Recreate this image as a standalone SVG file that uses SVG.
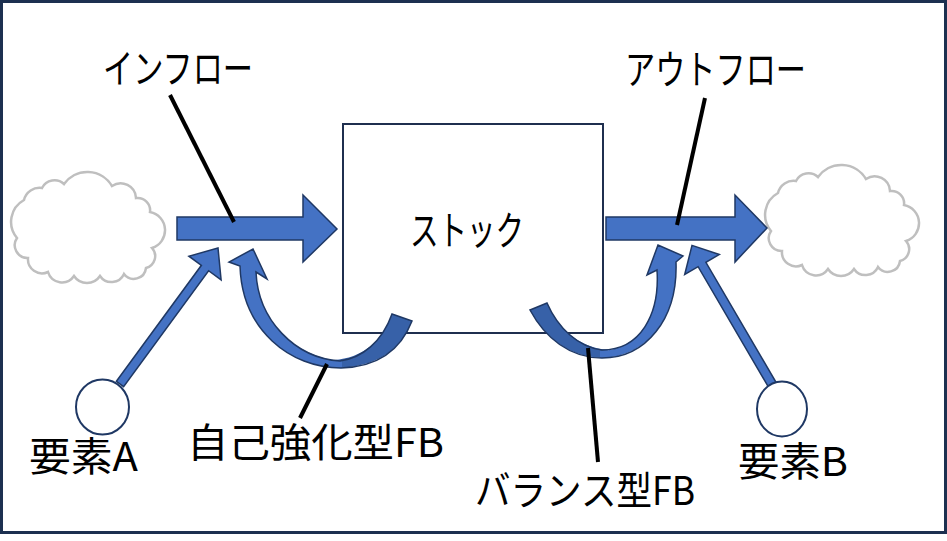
<svg xmlns="http://www.w3.org/2000/svg" width="947" height="541" viewBox="0 0 947 541">
  <style>
    .lbl { font-family: "Noto Sans CJK JP", "Noto Sans", sans-serif; font-size: 40px; fill: #000; }
    .cloud { fill: #fff; stroke: #bfbfbf; stroke-width: 2.5; }
    .blk { fill: #4472c4; stroke: #1f3864; stroke-width: 1.5; stroke-linejoin: miter; }
    .fill-light { fill: #4472c4; stroke: none; }
    .fill-dark { fill: #3761a8; stroke: none; }
    .outline { fill: none; stroke: #1f3864; stroke-width: 1.5; }
    .call { stroke: #000; stroke-width: 4; fill: none; }
    .elem { fill: #fff; stroke: #1f3864; stroke-width: 2; }
  </style>
  <defs>
    <path id="cloudShape" d="M17 238 A25 25 0 0 1 24 200 A16 16 0 0 1 42 188 A14 14 0 0 1 64 184 A28.7 28.7 0 0 1 112 186 A15.4 15.4 0 0 1 136 198 A12.5 12.5 0 0 1 150 212 A18.6 18.6 0 0 1 152 248 A12.2 12.2 0 0 1 146 268 A12.3 12.3 0 0 1 124 274 A13.8 13.8 0 0 1 100 276 A15.6 15.6 0 0 1 74 276 A14.6 14.6 0 0 1 48 272 A14.1 14.1 0 0 1 28 258 A12.8 12.8 0 0 1 17 238 Z"/>
  </defs>
  <rect x="0" y="0" width="947" height="541" fill="#fff"/>
  <rect x="1.5" y="1.5" width="944" height="531" fill="#fff" stroke="#1c3050" stroke-width="3"/>

  <g id="cloud-left">
    <use href="#cloudShape" class="cloud"/>
  </g>
  <g id="cloud-right">
    <use href="#cloudShape" class="cloud" transform="translate(754,-7)"/>
  </g>

  <g id="stock">
    <rect x="343" y="124" width="260" height="209" fill="#fff" stroke="#1f2f4f" stroke-width="2"/>
    <text class="lbl" x="410" y="245" textLength="114" lengthAdjust="spacingAndGlyphs">ストック</text>
  </g>

  <g id="connectors">
    <!-- inflow -->
    <polygon class="blk" points="177,217 303,217 303,195 337,229 303,262 303,240 177,240"/>
    <!-- outflow -->
    <polygon class="blk" points="606,217 735,217 735,195 767,228 735,262 735,240 606,240"/>
    <!-- self-reinforcing FB curved arrow -->
    <g id="curve-reinforcing">
      <path class="fill-dark" d="M392 314 L412 321 C400 352 375 367 336 368 L334 360 C362 358 382 342 392 314 Z"/>
      <path class="fill-light" d="M342 368 C290 368 242 330 240 266 L229 262 L253 249 L267 279 L256 272 C258 320 295 358 342 361 Z"/>
      <path class="outline" d="M392 314 L412 321 C400 352 375 367 341 368 C290 368 242 330 240 266 L229 262 L253 249 L267 279 L256 272 C258 320 295 358 340 361 C362 358 382 342 392 314 Z"/>
    </g>
    <!-- balance FB curved arrow -->
    <g id="curve-balancing">
      <path class="fill-dark" d="M530 310 L547 303 C558 328 578 347 608 350 L606 358 C570 358 545 338 530 310 Z"/>
      <path class="fill-light" d="M600 358 C645 358 678 320 676 262 L683 256 L658 245 L647 275 L657 270 C660 315 640 350 600 351 Z"/>
      <path class="outline" d="M530 310 L547 303 C558 328 578 347 602 350 C640 350 660 315 657 270 L647 275 L658 245 L683 256 L676 262 C678 320 645 358 602 358 C570 358 545 338 530 310 Z"/>
    </g>
    <!-- element A arrow -->
    <polygon class="blk" points="116.4,381.3 201.4,265.3 188.9,256.2 218,248 221.1,279.8 208.6,270.7 123.6,386.7"/>
    <!-- element B arrow -->
    <polygon class="blk" points="769.1,388.2 698.1,266.7 684.7,274.5 692,245.4 719.3,254.5 705.9,262.3 776.9,383.8"/>
    <!-- callout lines -->
    <line class="call" x1="170" y1="95" x2="234" y2="222"/>
    <line class="call" x1="705" y1="98" x2="677" y2="225"/>
    <line class="call" x1="327" y1="364" x2="300" y2="418"/>
    <line class="call" x1="588" y1="348" x2="598" y2="462"/>
  </g>

  <g id="element-a">
    <ellipse class="elem" cx="102.5" cy="407" rx="26.5" ry="27.5"/>
    <text class="lbl" x="29" y="471" textLength="109" lengthAdjust="spacingAndGlyphs">要素A</text>
  </g>
  <g id="element-b">
    <ellipse class="elem" cx="782" cy="409" rx="25" ry="27.5"/>
    <text class="lbl" x="738" y="476" textLength="110" lengthAdjust="spacingAndGlyphs">要素B</text>
  </g>

  <g id="label-inflow">
    <text class="lbl" x="103" y="83" textLength="150" lengthAdjust="spacingAndGlyphs">インフロー</text>
  </g>
  <g id="label-outflow">
    <text class="lbl" x="625" y="84" textLength="181" lengthAdjust="spacingAndGlyphs">アウトフロー</text>
  </g>
  <g id="label-reinforcing">
    <text class="lbl" x="187" y="457" textLength="257" lengthAdjust="spacingAndGlyphs">自己強化型FB</text>
  </g>
  <g id="label-balancing">
    <text class="lbl" x="475" y="505" textLength="220" lengthAdjust="spacingAndGlyphs">バランス型FB</text>
  </g>
</svg>
